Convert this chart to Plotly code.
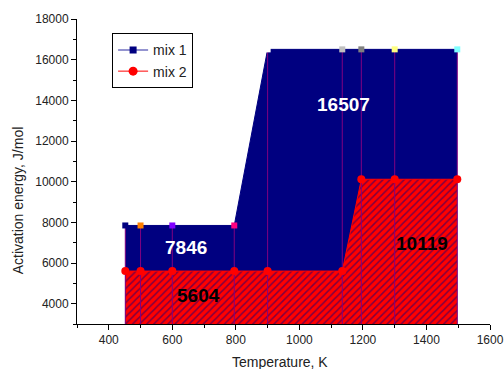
import plotly.graph_objects as go

# Data
temperature = [452, 500, 600, 795, 900, 1135, 1195, 1300, 1497]
mix1 = [7846, 7846, 7846, 7846, 16507, 16507, 16507, 16507, 16507]
mix2 = [5604, 5604, 5604, 5604, 5604, 5604, 10119, 10119, 10119]
mix1_marker_colors = ["#000080", "#ff8000", "#8000ff", "#ff0080", "#ffffff",
                      "#c0c0c0", "#808080", "#ffff80", "#80ffff"]
labels_text = ["16507", "7846", "5604", "10119"]
labels_x = [1138, 642, 683, 1387]
labels_y = [13800, 6760, 4400, 6960]
labels_color = ["white", "white", "black", "black"]
x_title = "Temperature, K"
y_title = "Activation energy, J/mol"

Y_MIN, Y_MAX = 3000, 18000
X_MIN, X_MAX = 300, 1600

NAVY = "#000080"
RED = "#ff0000"
PURPLE = "#800080"

fig = go.Figure()

# mix 1 filled area
fig.add_trace(go.Scatter(x=temperature, y=mix1, mode="lines", fill="tozeroy",
                         fillcolor=NAVY, line=dict(color=NAVY, width=1),
                         showlegend=False, hoverinfo="skip"))
# mix 2 hatched area
fig.add_trace(go.Scatter(x=temperature, y=mix2, mode="lines", fill="tozeroy",
                         fillcolor=RED,
                         fillpattern=dict(shape="/", bgcolor=RED, fgcolor=NAVY,
                                          size=5, solidity=0.3),
                         line=dict(color=RED, width=1),
                         showlegend=False, hoverinfo="skip"))
# drop lines
dx, dy = [], []
for t, v in zip(temperature, mix1):
    dx += [t, t, None]
    dy += [v, Y_MIN, None]
fig.add_trace(go.Scatter(x=dx, y=dy, mode="lines", line=dict(color=PURPLE, width=1),
                         showlegend=False, hoverinfo="skip"))
# markers
fig.add_trace(go.Scatter(x=temperature, y=mix2, mode="markers",
                         marker=dict(symbol="circle", size=8, color=RED, line=dict(width=0)),
                         showlegend=False))
fig.add_trace(go.Scatter(x=temperature, y=mix1, mode="markers",
                         marker=dict(symbol="square", size=6, color=mix1_marker_colors,
                                     line=dict(width=0)),
                         showlegend=False))
# legend entries
fig.add_trace(go.Scatter(x=[None], y=[None], mode="lines+markers", name="mix 1",
                         line=dict(color="#7070c0", width=1.5),
                         marker=dict(symbol="square", size=7, color=NAVY)))
fig.add_trace(go.Scatter(x=[None], y=[None], mode="lines+markers", name="mix 2",
                         line=dict(color=RED, width=1),
                         marker=dict(symbol="circle", size=9, color=RED)))

for t, x, y, c in zip(labels_text, labels_x, labels_y, labels_color):
    fig.add_annotation(x=x, y=y, text="<b>%s</b>" % t, showarrow=False,
                       font=dict(size=19, color=c, family="Liberation Sans, Arial"))

# axis titles
fig.add_annotation(x=0.492, y=-0.126, xref="paper", yref="paper", text=x_title,
                   showarrow=False, xanchor="center", yanchor="middle",
                   font=dict(size=14, color="#222"))
fig.add_annotation(x=-0.144, y=0.404, xref="paper", yref="paper", text=y_title,
                   showarrow=False, xanchor="center", yanchor="middle", textangle=-90,
                   font=dict(size=14, color="#222"))

axis_common = dict(showline=True, linecolor="black", linewidth=1, ticks="outside",
                   ticklen=5, tickcolor="black", showgrid=False, zeroline=False,
                   tickfont=dict(size=12, color="#222"), mirror=False,
                   automargin=False, tickformat="d")
fig.update_xaxes(range=[X_MIN, X_MAX], tick0=400, dtick=200,
                 minor=dict(dtick=100, ticks="outside", ticklen=3, tickcolor="black"),
                 **axis_common)
fig.update_yaxes(range=[Y_MIN, Y_MAX], tick0=0, dtick=2000,
                 minor=dict(dtick=1000, ticks="outside", ticklen=3, tickcolor="black"),
                 **axis_common)

fig.update_layout(width=504, height=369,
                  margin=dict(l=76.5, r=14, t=19, b=45.4),
                  paper_bgcolor="white", plot_bgcolor="white",
                  font=dict(family="Liberation Sans, Arial, sans-serif", color="#222"),
                  legend=dict(x=0.085, y=0.953, xanchor="left", yanchor="top",
                              bgcolor="white", bordercolor="black", borderwidth=1,
                              font=dict(size=14), tracegroupgap=0, itemwidth=30),
                  showlegend=True)

fig.write_html("out.html")
